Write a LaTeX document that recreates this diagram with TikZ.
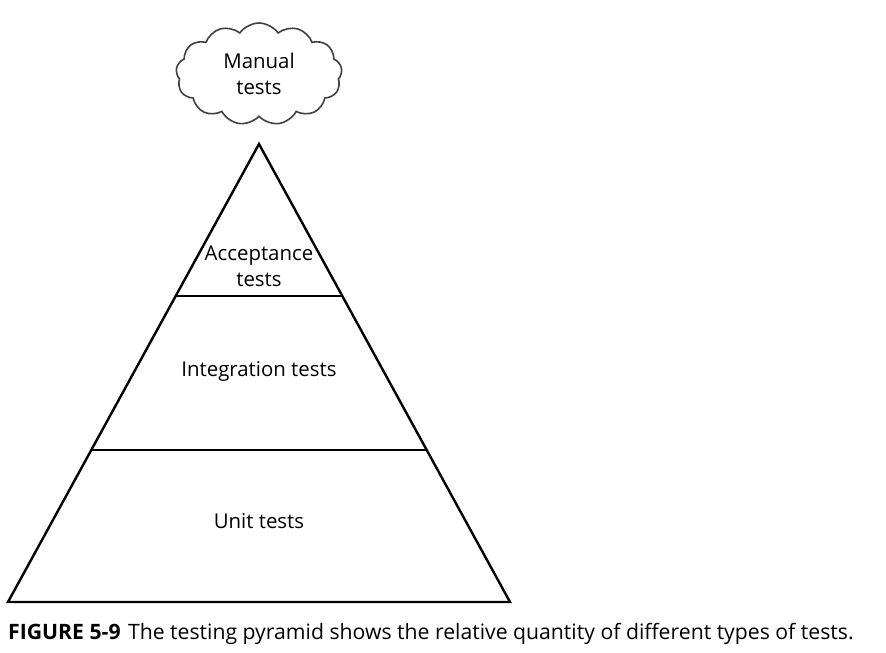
\documentclass[tikz,border=0pt]{standalone}
\usepackage{fontspec}
\setmainfont{Open Sans}
\usepackage{tikz}
\usetikzlibrary{shapes.symbols}
\usetikzlibrary{calc}

\begin{document}
\begin{tikzpicture}[x=1pt,y=-1pt,
    layer/.style={font=\fontsize{20.4}{26}\selectfont,align=center},
    edge/.style={line width=2.4pt,draw=black}]
        \useasboundingbox (0,0) rectangle (886,653);
        \draw (259,144) coordinate (top) node[above]{};
        \draw (8,602) coordinate (bl) node[above]{};
        \draw (510,602) coordinate (br) node[above]{};

        % the pyramid and its two cuts
        \draw[edge,line join=miter] (top)--(br)--(bl)--cycle;
        \draw[edge] ($(top)!0.332!(bl)$) coordinate (al)--($(top)!0.332!(br)$) coordinate (ar);
        \draw[edge] ($(top)!0.668!(bl)$) coordinate (il)--($(top)!0.668!(br)$) coordinate (ir);

        \node[layer] (accept) at (259,266) {Acceptance\\tests};
        \node[layer] (integ) at (259,371) {Integration tests};
        \node[layer] (unit) at (259,521) {Unit tests};

        \node[layer,cloud,cloud puffs=13,cloud puff arc=110,aspect=1.6,draw=black!75,line width=1.6pt,
            minimum width=166pt,minimum height=102pt,inner sep=0pt] (manual) at (259,74) {Manual\\tests};

        \node[anchor=west,font=\fontsize{21.2}{25}\selectfont,inner sep=0pt] (caption) at (8,634)
            {\textbf{FIGURE 5-9}\hspace{0.35em}The testing pyramid shows the relative quantity of different types of tests.};
    \end{tikzpicture}
\end{document}
